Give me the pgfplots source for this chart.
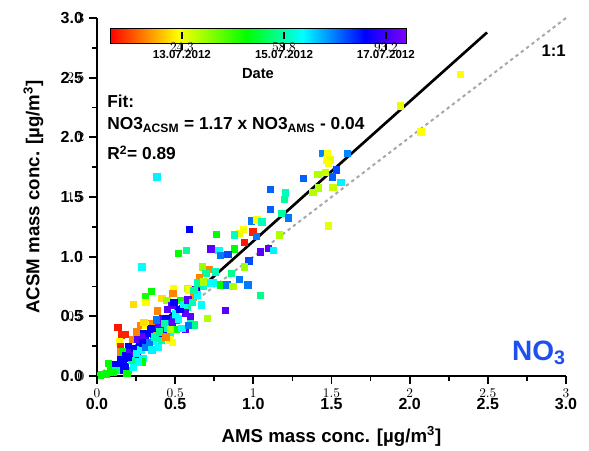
\documentclass[border=0pt]{standalone}
\usepackage{fontspec}
\setmainfont{Liberation Sans}
\usepackage{pgfplots}
\usepackage{pgfplotstable}
\pgfplotsset{compat=1.18}
\pgfplotsset{every tick/.style={draw=black, line width=1.3pt}}
\definecolor{nothree}{HTML}{1E50F0}
\definecolor{oneone}{HTML}{A8A8A8}
\newcommand{\bfs}[1]{\bfseries\fontsize{#1}{#1}\selectfont}
% tick-only strips laid along the axes
\pgfplotsset{tickstrip/.style={scale only axis, axis line style={draw=none},
  tick align=inside, major tick length=6pt, minor tick length=3.5pt}}

\pgfplotstableread{
x y c
2.322 2.531 23
1.939 2.263 25
2.071 2.045 23
1.440 1.867 75
1.474 1.867 23
1.602 1.867 75
1.465 1.811 23
1.491 1.811 25
1.480 1.783 23
1.529 1.727 80
1.412 1.691 30
1.461 1.707 28
1.503 1.668 78
1.320 1.657 78
1.559 1.624 66
1.508 1.582 28
1.416 1.578 30
1.380 1.540 30
1.480 1.260 25
0.382 1.671 66
1.107 1.565 78
1.203 1.537 60
1.196 1.481 58
1.107 1.397 78
1.181 1.364 58
1.224 1.327 76
0.985 1.302 76
1.022 1.308 23
1.054 1.294 60
0.591 1.229 86
0.936 1.229 23
0.911 1.196 24
0.996 1.207 3
1.017 1.173 76
0.761 1.188 46
0.879 1.182 60
1.164 1.182 30
0.941 1.120 2
0.729 1.065 96
0.778 1.056 64
0.877 1.067 46
0.520 1.028 46
0.571 1.056 58
0.787 1.014 76
0.836 1.022 80
1.043 1.042 96
1.094 1.070 96
1.128 1.056 66
0.972 0.964 80
0.941 0.916 32
0.286 0.916 65
0.672 0.916 32
0.719 0.894 12
0.697 0.861 58
0.755 0.875 60
0.655 0.827 12
0.859 0.861 56
0.909 0.810 76
0.789 0.766 46
0.830 0.766 76
0.868 0.754 30
0.964 0.766 76
0.706 0.777 58
0.740 0.782 64
1.043 0.676 56
0.821 0.551 96
0.706 0.484 30
0.667 0.598 65
0.348 0.712 46
0.307 0.665 44
0.313 0.620 23
0.233 0.601 20
0.488 0.735 23
0.484 0.693 12
0.414 0.651 20
0.446 0.637 32
0.580 0.735 30
0.584 0.721 23
0.478 0.595 96
0.531 0.637 44
0.386 0.548 12
0.629 0.721 96
0.616 0.665 12
0.574 0.581 58
0.478 0.484 96
0.563 0.531 96
0.595 0.497 96
0.420 0.484 96
0.505 0.470 76
0.595 0.442 58
0.620 0.430 56
0.505 0.391 46
0.565 0.391 96
0.542 0.399 65
0.584 0.427 76
0.134 0.408 2
0.280 0.427 12
0.350 0.442 12
0.154 0.344 3
0.179 0.349 3
0.143 0.293 23
0.147 0.246 3
0.152 0.204 12
0.254 0.371 12
0.296 0.358 86
0.328 0.358 96
0.371 0.386 14
0.414 0.386 96
0.429 0.352 96
0.467 0.358 65
0.463 0.302 23
0.480 0.282 23
0.399 0.316 56
0.360 0.316 96
0.307 0.302 86
0.392 0.246 65
0.328 0.251 96
0.275 0.246 86
0.200 0.246 86
0.232 0.218 86
0.254 0.176 86
0.292 0.148 65
0.286 0.120 46
0.220 0.190 86
0.190 0.148 86
0.168 0.120 86
0.140 0.100 96
0.136 0.078 86
0.168 0.050 86
0.200 0.050 46
0.190 0.028 46
0.072 0.106 46
0.030 0.017 46
0.019 0.005 46
0.083 0.050 46
0.162 0.204 46
0.260 0.120 65
0.232 0.078 65
0.230 0.310 12
0.180 0.080 86
0.310 0.430 23
0.420 0.350 86
0.360 0.290 65
0.12 0.10 86
0.15 0.14 86
0.18 0.17 86
0.21 0.20 96
0.24 0.23 86
0.27 0.28 86
0.30 0.33 96
0.33 0.36 86
0.36 0.40 86
0.39 0.43 96
0.44 0.48 86
0.46 0.44 76
0.50 0.52 65
0.53 0.56 86
0.55 0.60 65
0.58 0.64 96
0.61 0.62 60
0.64 0.68 65
0.68 0.75 60
0.72 0.78 65
0.25 0.19 65
0.28 0.22 65
0.22 0.13 56
0.33 0.28 76
0.37 0.33 60
0.40 0.37 56
0.45 0.40 60
0.48 0.45 96
0.52 0.48 65
0.20 0.16 86
0.16 0.09 86
0.26 0.31 96
0.34 0.40 86
0.43 0.44 58
0.30 0.45 20
0.38 0.47 76
0.12 0.05 56
0.10 0.03 46
0.06 0.02 46
0.29 0.28 86
0.31 0.24 76
0.35 0.22 66
0.41 0.30 58
0.44 0.33 12
0.47 0.39 30
0.64 0.78 58
0.68 0.79 30
0.62 0.72 58
0.49 0.62 86
0.45 0.56 96
}\notab

\begin{document}
\begin{tikzpicture}
\begin{axis}[
  name=ax,
  scale only axis, width=351.75pt, height=268.5pt,
  xmin=0, xmax=3, ymin=0, ymax=3,
  axis lines=left,
  axis line style={line width=1.5pt, -},
  xtick={0,0.5,1,1.5,2,2.5,3}, ytick={0,0.5,1,1.5,2,2.5,3},
  minor tick num=1,
  tick align=inside, major tick length=-6pt, minor tick length=-3.5pt,
  tick label style={font=\bfs{12}},
  xticklabel style={yshift=-13.5pt, /pgf/number format/.cd, fixed, fixed zerofill, precision=1, assume math mode=true},
  yticklabel style={xshift=-7pt, /pgf/number format/.cd, fixed, fixed zerofill, precision=1, assume math mode=true},
  xlabel={AMS mass conc. [µg/m\textsuperscript{3}]},
  ylabel={ACSM mass conc. [µg/m\textsuperscript{3}]},
  label style={font=\bfs{14}},
  xlabel style={at={(axis description cs:0.5,0)}, anchor=base, yshift=-49.5pt},
  ylabel style={at={(axis description cs:-0.1226,0.5)}, anchor=base},
  colormap={date}{[1pt] rgb255(0pt)=(255,0,0); rgb255(23pt)=(255,255,0); rgb255(46pt)=(0,255,0); rgb255(65pt)=(0,255,255); rgb255(86pt)=(0,0,255); rgb255(100pt)=(125,0,255)},
  point meta min=0, point meta max=100,
  colorbar horizontal,
  colorbar style={
    at={(parent axis.north west)}, anchor=north west, xshift=9.75pt, yshift=0.75pt,
    scale only axis, width=222pt, height=11.25pt,
    axis lines=left, axis line style={line width=0.6pt, -},
    xtick={24.3,58.8,93.2}, xticklabels={13.07.2012,15.07.2012,17.07.2012},
    tick align=inside, major tick length=-5pt,
    xticklabel style={font=\bfs{8.7}, yshift=-2pt},
    xlabel={Date}, xlabel style={font=\bfs{11}},
    after end axis/.code={\draw[line width=0.6pt] (rel axis cs:0,0) rectangle (rel axis cs:1,1);},
  },
  clip=false,
]
\addplot[scatter, only marks, mark=square*, mark size=2.4pt,
  scatter/use mapped color={draw=mapped color, fill=mapped color},
  point meta=explicit] table[x=x, y=y, meta=c] {\notab};
\addplot[oneone, line width=1.5pt, dash pattern=on 2.5pt off 2.5pt] coordinates {(0,0) (3,3)};
\addplot[black, line width=2pt] coordinates {(0.034,0) (2.495,2.879)};
\node[anchor=base west, inner sep=0, font=\bfs{13}] at (axis cs:0.064,2.246) {Fit:};
\node[anchor=base west, inner sep=0, font=\bfs{13}] at (axis cs:0.064,2.062) {NO3\textsubscript{ACSM} = 1.17 x NO3\textsubscript{AMS} - 0.04};
\node[anchor=base west, inner sep=0, font=\bfs{13}] at (axis cs:0.064,1.811) {R\textsuperscript{2}= 0.89};
\node[anchor=base east, inner sep=0, font=\bfs{12.5}] at (axis cs:3.0,2.674) {1:1};
\node[anchor=base east, inner sep=0, font=\bfs{21}, text=nothree] at (axis cs:3.0,0.134) {NO\textsubscript{3}};
\end{axis}
% x ticks: strip below the plot, ticks on its top edge pointing down
\begin{axis}[tickstrip, at={(ax.south west)}, anchor=north west,
  width=351.75pt, height=6pt, xmin=0, xmax=3, ymin=0, ymax=1,
  xtick={0,0.5,1,1.5,2,2.5,3}, minor tick num=1, ytick=\empty,
  xtick pos=right, xticklabel pos=left, xticklabel={}]
\end{axis}
% y ticks: strip left of the plot, ticks on its right edge pointing left
\begin{axis}[tickstrip, at={(ax.south west)}, anchor=south east,
  width=6pt, height=268.5pt, xmin=0, xmax=1, ymin=0, ymax=3,
  ytick={0,0.5,1,1.5,2,2.5,3}, minor tick num=1, xtick=\empty,
  ytick pos=right, yticklabel pos=left, yticklabel={}]
\end{axis}
% colour bar ticks: strip under the bar
\begin{axis}[tickstrip, at={(ax.north west)}, anchor=north west,
  xshift=9.75pt, yshift=-10.5pt, major tick length=5pt,
  width=222pt, height=5pt, xmin=0, xmax=100, ymin=0, ymax=1,
  xtick={24.3,58.8,93.2}, ytick=\empty,
  xtick pos=right, xticklabel pos=left, xticklabel={},
  every tick/.style={draw=black, line width=1pt}]
\end{axis}
\pgfresetboundingbox
\path ([shift={(-72.75pt,-55.5pt)}]ax.south west) rectangle ([shift={(17.25pt,13.5pt)}]ax.north east);
\end{tikzpicture}
\end{document}
